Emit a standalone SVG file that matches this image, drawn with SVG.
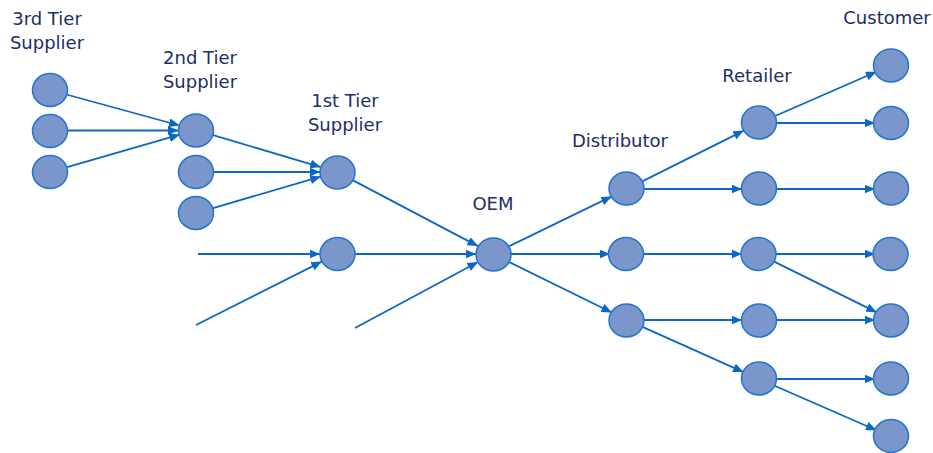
<svg xmlns="http://www.w3.org/2000/svg" width="933" height="453" viewBox="0 0 933 453">
  <style>
    .node { fill: #7b96cb; stroke: #2474cf; stroke-width: 1.5; }
    .link { stroke: #0a67c9; stroke-width: 1.8; fill: none; marker-end: url(#arrow); }
    .label { font-family: "DejaVu Sans", Verdana, sans-serif; font-size: 18px; fill: #222d68; text-anchor: middle; }
  </style>
  <defs>
    <marker id="arrow" markerUnits="userSpaceOnUse" markerWidth="11" markerHeight="9" refX="10.5" refY="4.5" orient="auto">
      <path d="M0,0 L10.5,4.5 L0,9 z" fill="#0a67c9"/>
    </marker>
  </defs>
  <rect width="933" height="453" fill="#ffffff"/>

  <!-- tier labels -->
  <g id="labels">
    <text class="label" x="47" y="25">3rd Tier</text>
    <text class="label" x="47" y="49">Supplier</text>
    <text class="label" x="200" y="64">2nd Tier</text>
    <text class="label" x="200" y="88">Supplier</text>
    <text class="label" x="345" y="107">1st Tier</text>
    <text class="label" x="345" y="131">Supplier</text>
    <text class="label" x="493" y="210">OEM</text>
    <text class="label" x="620" y="147">Distributor</text>
    <text class="label" x="757" y="82">Retailer</text>
    <text class="label" x="887" y="24">Customer</text>
  </g>

  <!-- connectors -->
  <g id="connectors">
    <line class="link" x1="66.4" y1="94.5" x2="179.6" y2="125.5"/>
    <line class="link" x1="67" y1="130.5" x2="178.5" y2="130.5"/>
    <line class="link" x1="66.3" y1="167.3" x2="179.7" y2="134.7"/>
    <line class="link" x1="212.3" y1="134.9" x2="320.7" y2="167.1"/>
    <line class="link" x1="213" y1="172" x2="320" y2="172"/>
    <line class="link" x1="212.3" y1="208.3" x2="320.7" y2="176.7"/>
    <line class="link" x1="198" y1="254" x2="320" y2="254"/>
    <line class="link" x1="196" y1="325" x2="321.8" y2="261.6"/>
    <line class="link" x1="352.1" y1="179.9" x2="477.9" y2="246.1"/>
    <line class="link" x1="354" y1="254" x2="476" y2="254"/>
    <line class="link" x1="355" y1="328" x2="478" y2="262"/>
    <line class="link" x1="508.3" y1="246.6" x2="611.7" y2="196.4"/>
    <line class="link" x1="510" y1="254" x2="610" y2="254"/>
    <line class="link" x1="508.2" y1="261.5" x2="611.8" y2="312.5"/>
    <line class="link" x1="642.2" y1="181.4" x2="743.8" y2="130.6"/>
    <line class="link" x1="644" y1="189" x2="742" y2="189"/>
    <line class="link" x1="644" y1="254" x2="742" y2="254"/>
    <line class="link" x1="644" y1="320" x2="742" y2="320"/>
    <line class="link" x1="642.5" y1="326.9" x2="743.5" y2="372.1"/>
    <line class="link" x1="774.6" y1="116.2" x2="876.4" y2="71.8"/>
    <line class="link" x1="776" y1="123" x2="875" y2="123"/>
    <line class="link" x1="776" y1="189" x2="875" y2="189"/>
    <line class="link" x1="776" y1="254" x2="875" y2="254"/>
    <line class="link" x1="774.2" y1="261.6" x2="876.8" y2="312.4"/>
    <line class="link" x1="776" y1="320" x2="875" y2="320"/>
    <line class="link" x1="776" y1="379" x2="875" y2="379"/>
    <line class="link" x1="774.6" y1="385.8" x2="876.4" y2="430.2"/>
  </g>

  <!-- 3rd tier suppliers -->
  <g id="tier3-a"><ellipse class="node" cx="50" cy="90" rx="17.5" ry="16.5"/></g>
  <g id="tier3-b"><ellipse class="node" cx="50" cy="131" rx="17.5" ry="16.5"/></g>
  <g id="tier3-c"><ellipse class="node" cx="50" cy="172" rx="17.5" ry="16.5"/></g>

  <!-- 2nd tier suppliers -->
  <g id="tier2-a"><ellipse class="node" cx="196" cy="130.5" rx="17.5" ry="16.5"/></g>
  <g id="tier2-b"><ellipse class="node" cx="196" cy="172" rx="17.5" ry="16.5"/></g>
  <g id="tier2-c"><ellipse class="node" cx="196" cy="213" rx="17.5" ry="16.5"/></g>

  <!-- 1st tier suppliers -->
  <g id="tier1-a"><ellipse class="node" cx="337.5" cy="172.5" rx="17.5" ry="16.5"/></g>
  <g id="tier1-b"><ellipse class="node" cx="337.5" cy="254" rx="17.5" ry="16.5"/></g>

  <!-- OEM -->
  <g id="oem"><ellipse class="node" cx="493.5" cy="254.5" rx="17.5" ry="16.5"/></g>

  <!-- distributors -->
  <g id="dist-a"><ellipse class="node" cx="626.5" cy="188.5" rx="17.5" ry="16.5"/></g>
  <g id="dist-b"><ellipse class="node" cx="626" cy="254" rx="17.5" ry="16.5"/></g>
  <g id="dist-c"><ellipse class="node" cx="626.5" cy="320.5" rx="17.5" ry="16.5"/></g>

  <!-- retailers -->
  <g id="ret-a"><ellipse class="node" cx="759" cy="122.5" rx="17.5" ry="16.5"/></g>
  <g id="ret-b"><ellipse class="node" cx="759" cy="188.5" rx="17.5" ry="16.5"/></g>
  <g id="ret-c"><ellipse class="node" cx="758.5" cy="254" rx="17.5" ry="16.5"/></g>
  <g id="ret-d"><ellipse class="node" cx="759" cy="320.5" rx="17.5" ry="16.5"/></g>
  <g id="ret-e"><ellipse class="node" cx="759" cy="378.5" rx="17.5" ry="16.5"/></g>

  <!-- customers -->
  <g id="cust-a"><ellipse class="node" cx="891" cy="65.5" rx="17.5" ry="16.5"/></g>
  <g id="cust-b"><ellipse class="node" cx="891" cy="123" rx="17.5" ry="16.5"/></g>
  <g id="cust-c"><ellipse class="node" cx="891" cy="188.5" rx="17.5" ry="16.5"/></g>
  <g id="cust-d"><ellipse class="node" cx="890.5" cy="254" rx="17.5" ry="16.5"/></g>
  <g id="cust-e"><ellipse class="node" cx="891" cy="320.5" rx="17.5" ry="16.5"/></g>
  <g id="cust-f"><ellipse class="node" cx="891" cy="378.5" rx="17.5" ry="16.5"/></g>
  <g id="cust-g"><ellipse class="node" cx="891" cy="436" rx="17.5" ry="16.5"/></g>
</svg>
